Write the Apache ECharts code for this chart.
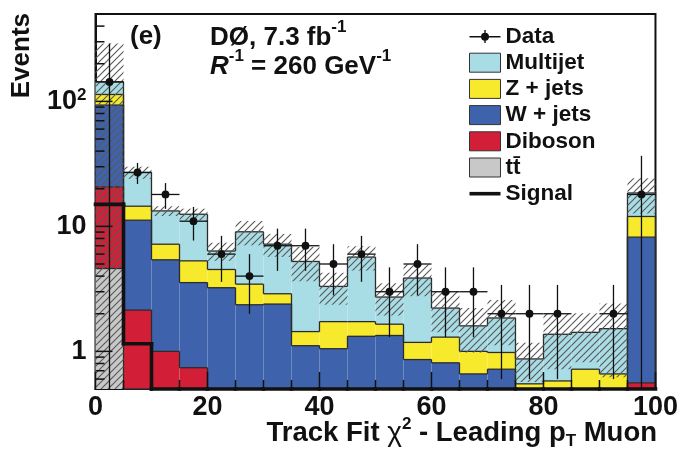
<!DOCTYPE html>
<html>
<head>
<meta charset="utf-8">
<script src="https://cdn.jsdelivr.net/npm/echarts@6.0.0/dist/echarts.min.js"></script>
<style>
html,body{margin:0;padding:0;background:#fff;}
#chart{width:681px;height:455px;}
</style>
</head>
<body>
<div id="chart"></div>
<script>
// ---------------- data ----------------
const binEdges   = [0,5,10,15,20,25,30,35,40,45,50,55,60,65,70,75,80,85,90,95,100];
const ttbar      = [4.6,0,0,0,0,0,0,0,0,0,0,0,0,0,0,0,0,0,0,0];
const diboson    = [16.1,2.14,1.0,0.74,0,0,0,0,0,0,0,0,0,0,0,0,0,0,0,0.56];
const wjets      = [72.7,9.06,4.4,2.81,3.23,2.36,2.39,1.11,1.05,1.32,1.34,0.86,0.81,0.66,0.72,0.5,0.45,0.45,0.45,7.64];
const zjets      = [20.2,3.3,1.8,1.75,1.29,1.09,0.5,0.33,0.68,0.41,0.31,0.32,0.49,0.34,0.26,0.05,0.13,0.27,0.21,3.8];
const multijet   = [29.9,12.5,6.1,7.2,1.83,5.6,4.31,3.8,1.58,3.95,1.07,2.68,0.92,0.60,0.87,0.32,0.79,0.70,0.86,6.5];
const bkgUnc     = [147,3.0,1.2,1.35,1.05,2.0,1.5,1.6,0.95,1.25,0.78,1.1,0.8,0.62,0.73,0.3,0.65,0.6,0.9,5.8];
const dataCounts = [143,27,18,11,6,4,7,7,5,6,3,5,3,3,2,2,2,0,2,18];
const dataErr    = [147,5.2,4.2,3.3,2.4,2.0,2.6,2.6,2.2,2.4,1.7,2.2,1.7,1.7,1.4,1.4,1.4,0,1.4,18.7];
const signal     = [15,1.15,0,0,0,0,0,0,0,0,0,0,0,0,0,0,0,0,0,0];
const xMajorTicks = [0,20,40,60,80,100];
const xMinorTicks = [5,10,15,25,30,35,45,50,55,65,70,75,85,90,95];
const yMajorTicks = [1,10,100];
const yTickLabels = ['1','10','{a|10}{s|2}'];
const yMinorTicks = [0.6,0.7,0.8,0.9,2,3,4,5,6,7,8,9,20,30,40,50,60,70,80,90,200,300,400];
const seriesNames = ['Data','Multijet','Z + jets','W + jets','Diboson','tt\u0304','Signal'];

// ---------------- setup ----------------
const FONT = '"Liberation Sans", Arial, Helvetica, sans-serif';
const Y_MIN = 0.5, Y_MAX = 500;
const nb = dataCounts.length;
const cl = v => Math.max(v, Y_MIN);
const LINE = '#2b2b2b';

function makeHatch(){
  const s = 7;
  const c = document.createElement('canvas');
  c.width = s; c.height = s;
  const g = c.getContext('2d');
  g.strokeStyle = '#5a5a5a';
  g.lineWidth = 1.15;
  g.beginPath();
  g.moveTo(-1, s + 1); g.lineTo(s + 1, -1);
  g.moveTo(-1, 1); g.lineTo(1, -1);
  g.moveTo(s - 1, s + 1); g.lineTo(s + 1, s - 1);
  g.stroke();
  return c;
}
const hatch = {image: makeHatch(), repeat: 'repeat'};

const layers = [
  {name: seriesNames[5], vals: ttbar,    color: '#c8c8c8'},
  {name: seriesNames[4], vals: diboson,  color: '#d21f37'},
  {name: seriesNames[3], vals: wjets,    color: '#3e63ac'},
  {name: seriesNames[2], vals: zjets,    color: '#f7ea2d'},
  {name: seriesNames[1], vals: multijet, color: '#a9dde6'}
];
let base = new Array(nb).fill(0);
layers.forEach(L => { L.lo = base; L.hi = base.map((b, i) => b + L.vals[i]); base = L.hi; });
const total = base;

function stackSeries(L){
  return {
    type: 'custom', name: L.name, z: 2,
    itemStyle: {color: L.color, borderColor: '#333', borderWidth: 1},
    encode: {x: 0, y: 3},
    data: L.vals.map((v, i) => [binEdges[i], binEdges[i+1], L.lo[i], L.hi[i], i < nb - 1 ? L.hi[i+1] : 0]),
    renderItem(params, api){
      const x0 = api.value(0), x1 = api.value(1), lo = api.value(2), hi = api.value(3), nx = api.value(4);
      const a = api.coord([x0, cl(hi)]);
      const b = api.coord([x1, cl(lo)]);
      const yn = api.coord([x1, cl(nx)])[1];
      const ch = [];
      if (cl(hi) > cl(lo)) {
        ch.push({type: 'rect', shape: {x: a[0], y: a[1], width: b[0] - a[0], height: b[1] - a[1]},
                 style: {fill: L.color}, z2: 1});
      }
      ch.push({type: 'line', shape: {x1: a[0], y1: a[1], x2: b[0], y2: a[1]}, style: {stroke: LINE, lineWidth: 1.3}, z2: 5});
      ch.push({type: 'line', shape: {x1: b[0], y1: a[1], x2: b[0], y2: yn}, style: {stroke: LINE, lineWidth: 1.3}, z2: 5});
      return {type: 'group', children: ch};
    }
  };
}

const series = layers.slice().reverse().map(stackSeries);

// hatched uncertainty band
series.push({
  type: 'custom', name: 'Uncertainty', z: 4,
  encode: {x: 0, y: 2},
  data: total.map((t, i) => [binEdges[i], binEdges[i+1], t, bkgUnc[i]]),
  renderItem(params, api){
    const x0 = api.value(0), x1 = api.value(1), t = api.value(2), u = api.value(3);
    const a = api.coord([x0, Math.min(t + u, Y_MAX)]);
    const b = api.coord([x1, cl(t - u)]);
    return {type: 'rect', shape: {x: a[0], y: a[1], width: b[0] - a[0], height: b[1] - a[1]},
            style: {fill: hatch}};
  }
});

// signal (thick step line)
series.push({
  type: 'custom', name: seriesNames[6], z: 5,
  itemStyle: {color: '#000'},
  encode: {x: 0, y: 2},
  data: signal.map((v, i) => [binEdges[i], binEdges[i+1], v, i < nb - 1 ? signal[i+1] : 0]),
  renderItem(params, api){
    const x0 = api.value(0), x1 = api.value(1), v = api.value(2), nx = api.value(3);
    const a = api.coord([x0, cl(v)]), b = api.coord([x1, cl(v)]);
    const yn = api.coord([x1, cl(nx)])[1];
    const st = {stroke: '#111', lineWidth: 3.6, lineCap: 'square'};
    return {type: 'group', children: [
      {type: 'line', shape: {x1: a[0], y1: a[1], x2: b[0], y2: b[1]}, style: st},
      {type: 'line', shape: {x1: b[0], y1: b[1], x2: b[0], y2: yn}, style: st}
    ]};
  }
});

// data points with error bars
series.push({
  type: 'custom', name: seriesNames[0], z: 6,
  itemStyle: {color: '#000'},
  encode: {x: 0, y: 2},
  data: dataCounts.map((n, i) => [binEdges[i], binEdges[i+1], n, dataErr[i]]),
  renderItem(params, api){
    const x0 = api.value(0), x1 = api.value(1), n = api.value(2), e = api.value(3);
    if (!(n > 0)) return {type: 'group', children: []};
    const xc = (x0 + x1) / 2;
    const l = api.coord([x0, n]), r = api.coord([x1, n]), c = api.coord([xc, n]);
    const t = api.coord([xc, Math.min(n + e, Y_MAX)]), bt = api.coord([xc, cl(n - e)]);
    const st = {stroke: '#111', lineWidth: 1.3};
    return {type: 'group', children: [
      {type: 'line', shape: {x1: l[0], y1: l[1], x2: r[0], y2: r[1]}, style: st},
      {type: 'line', shape: {x1: t[0], y1: t[1], x2: bt[0], y2: bt[1]}, style: st},
      {type: 'circle', shape: {cx: c[0], cy: c[1], r: 3.9}, style: {fill: '#111'}}
    ]};
  }
});

// ROOT-style inside axis ticks, placed through the axis scales
const tickRows = []
  .concat(xMajorTicks.map(v => [v, v, Y_MIN, 17, 0]))
  .concat(xMinorTicks.map(v => [v, v, Y_MIN, 9, 0]))
  .concat(yMajorTicks.map(v => [binEdges[0], binEdges[0], v, 17, 1]))
  .concat(yMinorTicks.map(v => [binEdges[0], binEdges[0], v, 9, 1]));
series.push({
  type: 'custom', name: 'axisTicks', z: 8,
  encode: {x: 0, y: 2},
  data: tickRows,
  renderItem(params, api){
    const p = api.coord([api.value(0), api.value(2)]);
    const len = api.value(3), isY = api.value(4) === 1;
    const st = {stroke: '#111', lineWidth: 1.5};
    return isY
      ? {type: 'line', shape: {x1: p[0], y1: p[1], x2: p[0] + len, y2: p[1]}, style: st}
      : {type: 'line', shape: {x1: p[0], y1: p[1], x2: p[0], y2: p[1] - len}, style: st};
  }
});

const boxStyle = c => ({color: c, borderColor: '#333', borderWidth: 1});
const option = {
  animation: false,
  backgroundColor: '#fff',
  grid: {left: 95.5, right: 24, top: 14, bottom: 66, containLabel: false,
         show: true, borderColor: '#111', borderWidth: 2, backgroundColor: 'transparent'},
  xAxis: {
    type: 'value', min: 0, max: 100, interval: 20,
    axisLine: {show: true, lineStyle: {color: '#111', width: 2}},
    axisTick: {show: false},
    splitLine: {show: false},
    axisLabel: {show: true, showMinLabel: true, showMaxLabel: true, margin: 5,
                fontSize: 27, fontWeight: 'bold', color: '#111', fontFamily: FONT}
  },
  yAxis: {
    type: 'log', logBase: 10, min: Y_MIN, max: Y_MAX,
    axisLine: {show: true, lineStyle: {color: '#111', width: 2}},
    axisTick: {show: false},
    splitLine: {show: false},
    axisLabel: {
      show: true, margin: 9, fontSize: 27, fontWeight: 'bold', color: '#111', fontFamily: FONT,
      formatter: function(v){
        for (let k = 0; k < yMajorTicks.length; k++) {
          if (Math.abs(Math.log10(v) - Math.log10(yMajorTicks[k])) < 1e-6) return yTickLabels[k];
        }
        return '';
      },
      rich: {
        a: {fontSize: 27, fontWeight: 'bold', color: '#111', fontFamily: FONT, lineHeight: 30},
        s: {fontSize: 17, fontWeight: 'bold', color: '#111', fontFamily: FONT, verticalAlign: 'top', lineHeight: 14}
      }
    }
  },
  legend: {
    orient: 'vertical', left: 469, top: 25, padding: 0, itemWidth: 31, itemHeight: 19, itemGap: 3.2,
    selectedMode: false,
    textStyle: {fontSize: 22.5, fontWeight: 'bold', color: '#111', fontFamily: FONT},
    data: [
      {name: seriesNames[0], icon: 'path://M0,9h31v1.4H0z M14.8,3h1.4v13h-1.4z M19.5,9.7a4,4 0 1,1 -8,0a4,4 0 1,1 8,0z',
       itemStyle: {color: '#111', borderWidth: 0}},
      {name: seriesNames[1], icon: 'rect', itemStyle: boxStyle('#a9dde6')},
      {name: seriesNames[2], icon: 'rect', itemStyle: boxStyle('#f7ea2d')},
      {name: seriesNames[3], icon: 'rect', itemStyle: boxStyle('#3e63ac')},
      {name: seriesNames[4], icon: 'rect', itemStyle: boxStyle('#d21f37')},
      {name: seriesNames[5], icon: 'rect', itemStyle: boxStyle('#c8c8c8')},
      {name: seriesNames[6], icon: 'path://M0,8h31v3.6H0z', itemStyle: {color: '#111', borderWidth: 0}}
    ]
  },
  graphic: [
    {type: 'text', x: 130, y: 37, z: 20,
     style: {text: '(e)', fontSize: 26, fontWeight: 'bold', fontFamily: FONT, fill: '#111', verticalAlign: 'middle'}},
    {type: 'text', x: 210, y: 38, z: 20,
     style: {text: '{b|DØ, 7.3 fb}{s|-1}', verticalAlign: 'middle',
             rich: {b: {fontSize: 26, fontWeight: 'bold', fontFamily: FONT, fill: '#111', lineHeight: 38},
                    s: {fontSize: 17, fontWeight: 'bold', fontFamily: FONT, fill: '#111', lineHeight: 13, verticalAlign: 'top'}}}},
    {type: 'text', x: 210, y: 67, z: 20,
     style: {text: '{i|R}{s|-1}{b| = 260 GeV}{s|-1}', verticalAlign: 'middle',
             rich: {b: {fontSize: 26, fontWeight: 'bold', fontFamily: FONT, fill: '#111', lineHeight: 38},
                    i: {fontSize: 26, fontWeight: 'bold', fontStyle: 'italic', fontFamily: FONT, fill: '#111', lineHeight: 38},
                    s: {fontSize: 17, fontWeight: 'bold', fontFamily: FONT, fill: '#111', lineHeight: 13, verticalAlign: 'top'}}}},
    {type: 'text', x: 22, y: 13, rotation: Math.PI / 2, z: 20,
     style: {text: 'Events', fontSize: 26, fontWeight: 'bold', fontFamily: FONT, fill: '#111',
             align: 'right', verticalAlign: 'middle'}},
    {type: 'text', x: 657, y: 433, z: 20,
     style: {text: '{n|Track Fit }{g|\u03C7}{s|2}{n| - Leading p}{u|T}{n| Muon}', align: 'right', verticalAlign: 'middle',
             rich: {n: {fontSize: 27.5, fontWeight: 'bold', fontFamily: FONT, fill: '#111', lineHeight: 34},
                    g: {fontSize: 28, fontFamily: FONT, fill: '#111', lineHeight: 34},
                    s: {fontSize: 17, fontWeight: 'bold', fontFamily: FONT, fill: '#111', lineHeight: 14, verticalAlign: 'top'},
                    u: {fontSize: 17, fontWeight: 'bold', fontFamily: FONT, fill: '#111', lineHeight: 12, verticalAlign: 'bottom'}}}}
  ],
  series: series
};

const chart = echarts.init(document.getElementById('chart'), null, {renderer: 'canvas'});
chart.setOption(option);
</script>
</body>
</html>
